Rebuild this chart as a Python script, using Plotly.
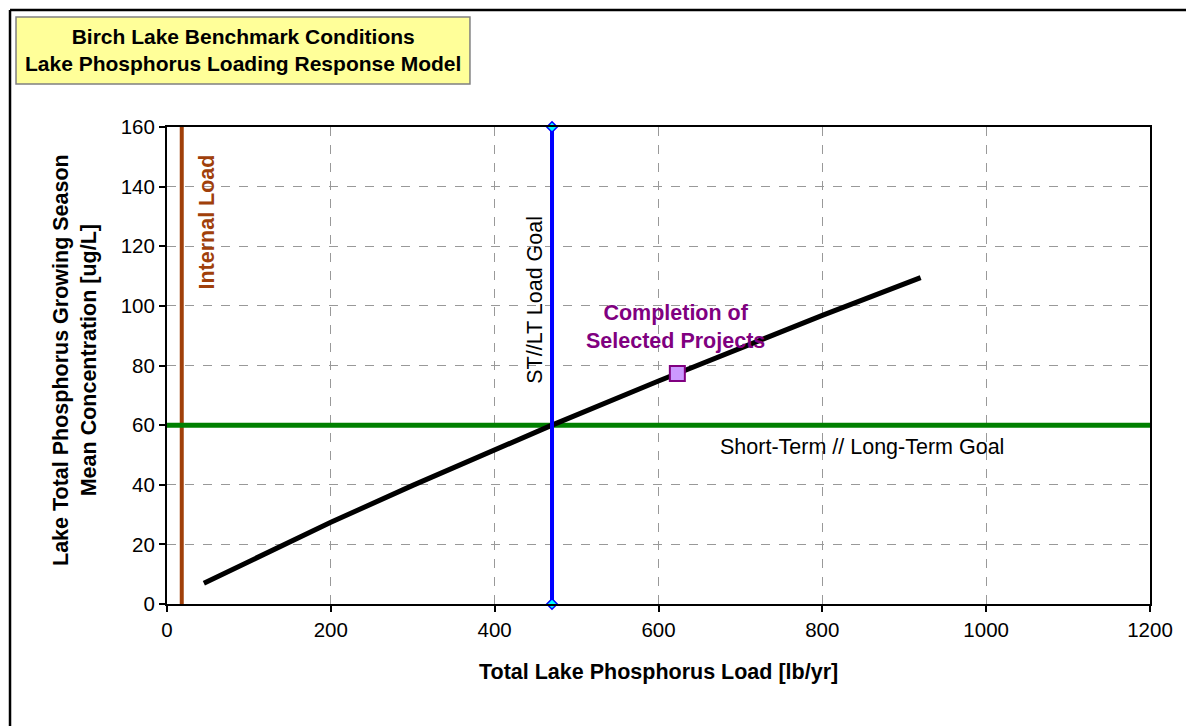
import plotly.graph_objects as go

# response curve
load = [45, 100, 200, 300, 400, 470, 600, 700, 800, 920]
conc = [7, 14.4, 27.4, 39.8, 51.7, 60, 74.8, 85.9, 96.8, 109.5]

internal_load = 18
goal_load = 470
goal_conc = 60
project_load = [623]
project_conc = [77.3]

y_range = [0, 160]
x_range = [0, 1200]

FONT = "Liberation Sans, Arial, sans-serif"

fig = go.Figure()

fig.add_trace(go.Scatter(x=[internal_load, internal_load], y=y_range, mode="lines",
                         line=dict(color="#A0400A", width=4), hoverinfo="skip"))
fig.add_trace(go.Scatter(x=x_range, y=[goal_conc, goal_conc], mode="lines",
                         line=dict(color="#008000", width=5), hoverinfo="skip"))
fig.add_trace(go.Scatter(x=load, y=conc, mode="lines",
                         line=dict(color="black", width=5), hoverinfo="skip"))
fig.add_trace(go.Scatter(x=[goal_load, goal_load], y=y_range, mode="lines+markers",
                         line=dict(color="#0000FF", width=4),
                         marker=dict(symbol="diamond", size=8, color="#00FFFF",
                                     line=dict(color="#0000FF", width=1.5)),
                         cliponaxis=False, hoverinfo="skip"))
fig.add_trace(go.Scatter(x=project_load, y=project_conc, mode="markers",
                         marker=dict(symbol="square", size=15, color="#CC99FF",
                                     line=dict(color="#800080", width=2)),
                         hoverinfo="skip"))

axis = dict(showline=True, linecolor="black", linewidth=2, mirror=True,
            ticks="outside", ticklen=6, tickcolor="black", tickwidth=1.5,
            showgrid=True, gridcolor="#999999", griddash="dash", gridwidth=1,
            zeroline=False, tickfont=dict(family=FONT, size=20.5, color="black"))

fig.update_xaxes(range=x_range, dtick=200, **axis)
fig.update_yaxes(range=y_range, dtick=20, **axis)

fig.add_annotation(x=49, y=128, text="<b>Internal Load</b>", textangle=-90, showarrow=False,
                   font=dict(family=FONT, size=21.5, color="#A0400A"))
fig.add_annotation(x=449, y=102, text="ST//LT Load Goal", textangle=-90, showarrow=False,
                   font=dict(family=FONT, size=21.5, color="black"))
fig.add_annotation(x=621, y=93, text="<b>Completion of<br>Selected Projects</b>", showarrow=False,
                   font=dict(family=FONT, size=21.5, color="#800080"))
fig.add_annotation(x=848, y=52.7, text="Short-Term // Long-Term Goal", showarrow=False,
                   font=dict(family=FONT, size=21.5, color="black"))

# axis titles
fig.add_annotation(xref="paper", yref="paper", x=0.4995, y=-0.1426, xanchor="center", yanchor="middle",
                   text="<b>Total Lake Phosphorus Load [lb/yr]</b>", showarrow=False,
                   font=dict(family=FONT, size=21.5, color="black"))
fig.add_annotation(xref="paper", yref="paper", x=-0.0936, y=0.5115, xanchor="center", yanchor="middle",
                   textangle=-90,
                   text="<b>Lake Total Phosphorus Growing Season<br>Mean Concentration [ug/L]</b>",
                   showarrow=False, font=dict(family=FONT, size=21.5, color="black"))

# title box
fig.add_shape(type="rect", xref="paper", yref="paper", x0=-0.1536, x1=0.3082, y0=1.0901, y1=1.2306,
              fillcolor="#FFFF99", line=dict(color="#808080", width=1.5), layer="below")
fig.add_annotation(xref="paper", yref="paper", x=0.0773, y=1.1614, xanchor="center", yanchor="middle",
                   text="<b>Birch Lake Benchmark Conditions<br>Lake Phosphorus Loading Response Model</b>",
                   showarrow=False, font=dict(family=FONT, size=21, color="black"))

# outer border (left and top edges only visible)
fig.add_shape(type="line", xref="paper", yref="paper", x0=-0.1597, x1=-0.1597, y0=-0.4, y1=1.2453,
              line=dict(color="black", width=2.5), layer="below")
fig.add_shape(type="line", xref="paper", yref="paper", x0=-0.1597, x1=1.3, y0=1.2453, y1=1.2453,
              line=dict(color="black", width=2.5), layer="below")

fig.update_layout(width=1194, height=726, showlegend=False,
                  margin=dict(l=159, r=52, t=119, b=130),
                  plot_bgcolor="white", paper_bgcolor="white",
                  font=dict(family=FONT))

fig.write_html("out.html")
